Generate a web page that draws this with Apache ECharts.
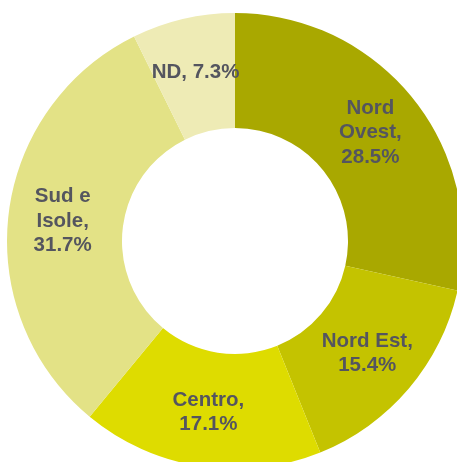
<!DOCTYPE html>
<html>
<head>
<meta charset="utf-8">
<script src="https://cdn.jsdelivr.net/npm/echarts@6/dist/echarts.min.js"></script>
<style>
  html, body { margin: 0; padding: 0; background: #fff; }
  #chart { width: 457px; height: 462px; }
</style>
</head>
<body>
<div id="chart"></div>
<script>
// ripartizione per area geografica
var regions = ['Nord Ovest', 'Nord Est', 'Centro', 'Sud e Isole', 'ND'];
var shares = [28.5, 15.4, 17.1, 31.7, 7.3];
// come sono spezzate le etichette nel grafico originale
var labelLines = [['Nord', 'Ovest,'], ['Nord Est,'], ['Centro,'], ['Sud e', 'Isole,'], ['ND,']];
var sliceColors = ['#a9a800', '#c4c300', '#dedc00', '#e3e286', '#eeebb5'];

var chart = echarts.init(document.getElementById('chart'));

function labelText(p) {
    var i = p.dataIndex;
    var pct = shares[i].toFixed(1) + '%';
    if (regions[i] === 'ND') return labelLines[i][0] + ' ' + pct;
    return labelLines[i].join('\n') + '\n' + pct;
}

chart.setOption({
    animation: false,
    series: [{
        type: 'pie',
        center: [235, 241],
        radius: [113, 228],
        startAngle: 90,
        clockwise: true,
        avoidLabelOverlap: false,
        label: {
            show: true,
            position: 'inside',
            formatter: labelText,
            color: '#54555f',
            fontFamily: 'Liberation Sans, Arial, sans-serif',
            fontWeight: 'bold',
            fontSize: 20.5,
            lineHeight: 24.5,
            align: 'center'
        },
        labelLine: { show: false },
        itemStyle: { borderWidth: 0 },
        emphasis: { disabled: true },
        data: regions.map(function (r, i) {
            return { name: r, value: shares[i], itemStyle: { color: sliceColors[i] } };
        })
    }]
});
</script>
</body>
</html>
